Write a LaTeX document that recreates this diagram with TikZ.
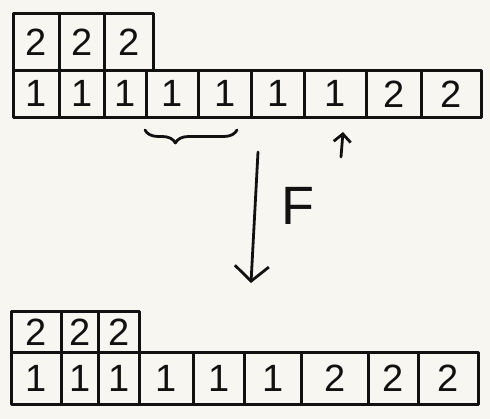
\documentclass[tikz,border=0pt]{standalone}
\usepackage{fontspec}
\setmainfont{Liberation Sans}
\usetikzlibrary{arrows.meta,decorations.pathreplacing}
\definecolor{paper}{HTML}{F8F6F1}
\definecolor{ink}{HTML}{111111}
\tikzset{
  cell/.style={draw=ink, line width=2.8pt, anchor=north west, inner sep=0pt, text=ink,
    font=\fontsize{38}{38}\selectfont, line join=round},
  pen/.style={draw=ink, line width=2.8pt, line cap=round, line join=round},
}
\begin{document}
\begin{tikzpicture}[x=1pt,y=-1pt]
\fill[paper] (0,0) rectangle (490,419);
\useasboundingbox (0,0) rectangle (490,419);
% ---------- top configuration ----------
\node[cell, minimum width=46pt, minimum height=57pt] (t2a) at (12,12) {2};
\node[cell, minimum width=45pt, minimum height=57pt] (t2b) at (58,12) {2};
\node[cell, minimum width=49pt, minimum height=57pt] (t2c) at (103,12) {2};
\node[cell, minimum width=46pt, minimum height=47pt] (t1) at (12,69) {1};
\node[cell, minimum width=45pt, minimum height=47pt] (t2) at (58,69) {1};
\node[cell, minimum width=42pt, minimum height=47pt] (t3) at (103,69) {1};
\node[cell, minimum width=52pt, minimum height=47pt] (t4) at (145,69) {1};
\node[cell, minimum width=53pt, minimum height=47pt] (t5) at (197,69) {1};
\node[cell, minimum width=53pt, minimum height=47pt] (t6) at (250,69) {1};
\node[cell, minimum width=62pt, minimum height=47pt] (t7) at (303,69) {1};
\node[cell, minimum width=55pt, minimum height=47pt] (t8) at (365,69) {2};
\node[cell, minimum width=60pt, minimum height=47pt] (t9) at (420,69) {2};
% brace under cells 4-5
\coordinate (bl) at (145,130);
\coordinate (br) at (237,130);
\draw[pen, decorate, decoration={brace, mirror, amplitude=13pt, aspect=0.33}] (bl) -- (br);
% small pointer arrow
\coordinate (pa) at (341,157);
\coordinate (pb) at (343,132);
\draw[pen, -{Straight Barb[length=8pt,width=17pt]}] (pa) -- (pb);
% ---------- map F ----------
\coordinate (fa) at (258,152);
\coordinate (fb) at (251,283);
\draw[pen, -{Straight Barb[length=15pt,width=34pt]}] (fa) -- (fb);
\node[text=ink, font=\fontsize{54}{54}\selectfont] (F) at (298,206) {F};
% ---------- bottom configuration ----------
\node[cell, minimum width=50pt, minimum height=41pt] (b2a) at (10,310) {2};
\node[cell, minimum width=37pt, minimum height=41pt] (b2b) at (60,310) {2};
\node[cell, minimum width=41pt, minimum height=41pt] (b2c) at (97,310) {2};
\node[cell, minimum width=50pt, minimum height=52pt] (b1) at (10,351) {1};
\node[cell, minimum width=37pt, minimum height=52pt] (b2) at (60,351) {1};
\node[cell, minimum width=41pt, minimum height=52pt] (b3) at (97,351) {1};
\node[cell, minimum width=54pt, minimum height=52pt] (b4) at (138,351) {1};
\node[cell, minimum width=51pt, minimum height=52pt] (b5) at (192,351) {1};
\node[cell, minimum width=57pt, minimum height=52pt] (b6) at (243,351) {1};
\node[cell, minimum width=67pt, minimum height=52pt] (b7) at (300,351) {2};
\node[cell, minimum width=50pt, minimum height=52pt] (b8) at (367,351) {2};
\node[cell, minimum width=60pt, minimum height=52pt] (b9) at (417,351) {2};
\end{tikzpicture}
\end{document}
